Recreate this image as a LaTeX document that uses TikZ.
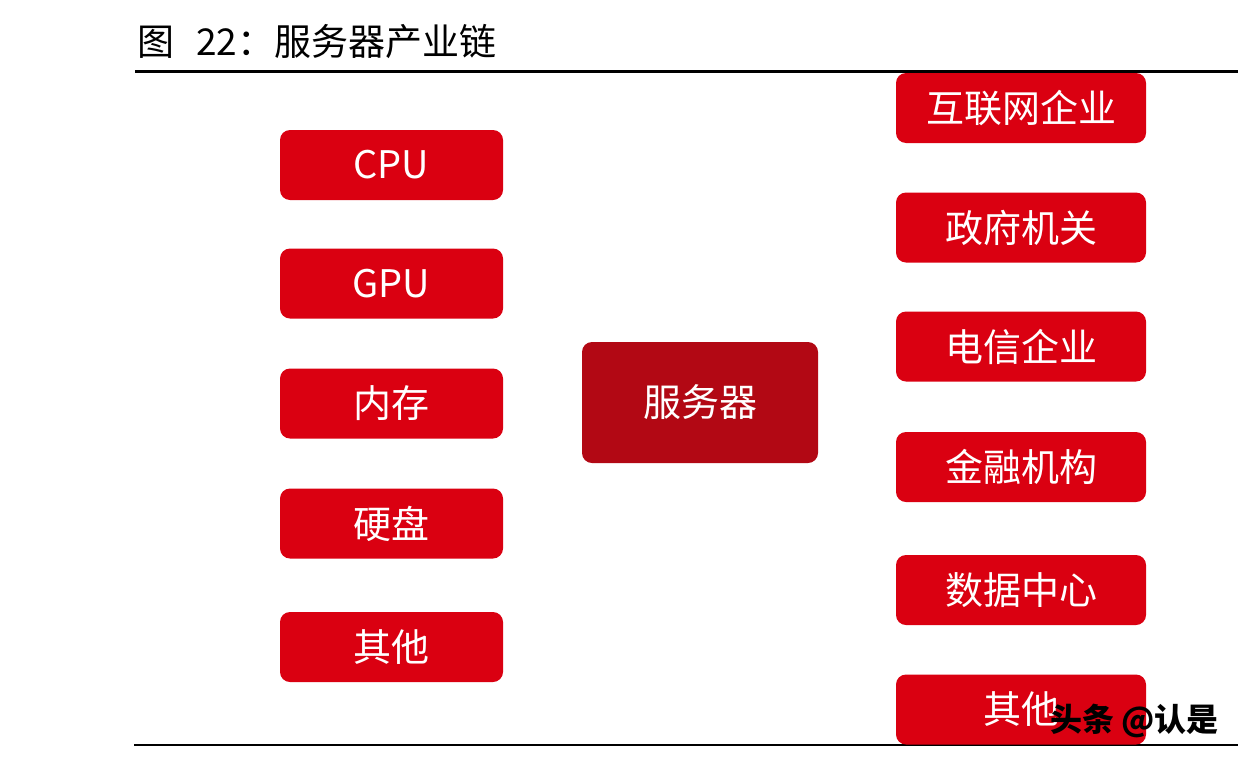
\documentclass[tikz,border=0pt]{standalone}
\usepackage{fontspec}
\setmainfont{Noto Sans CJK SC}
\usepackage{xcolor}
\usetikzlibrary{positioning}
\definecolor{boxred}{RGB}{218,0,17}
\definecolor{darkred}{RGB}{178,8,20}

\begin{document}
\begin{tikzpicture}[x=1pt, y=-1pt, font=\fontsize{38}{44}\selectfont,
    part/.style={rectangle, rounded corners=10pt, fill=boxred, text=white, minimum width=223pt, minimum height=70pt, inner sep=0pt},
    user/.style={part, minimum width=250pt},
    core/.style={part, fill=darkred, minimum width=236pt, minimum height=121pt}]
\useasboundingbox (0,0) rectangle (1238,758);
\begin{scope}
    % title and rules
    \node [anchor=base west, inner sep=0pt, font=\fontsize{37}{44}\selectfont] (title) at (137,55) {图\hspace{22pt}22：服务器产业链};
    \coordinate (t0) at (135,71.5);
    \coordinate (t1) at (1238,71.5);
    \coordinate (b0) at (134,745);
    \coordinate (b1) at (1238,745);
    \draw [line width=2.5pt] (t0) -- (t1);
    \draw [line width=2.5pt] (b0) -- (b1);

    % upstream parts
    \node [part] (cpu) at (391.5,165) {CPU};
    \node [part] (gpu) at (391.5,283.5) {GPU};
    \node [part] (mem) at (391.5,403.5) {内存};
    \node [part] (disk) at (391.5,523.5) {硬盘};
    \node [part] (other1) at (391.5,647) {其他};

    % server
    \node [core] (server) at (700,402.5) {服务器};

    % downstream users
    \node [user] (web) at (1021,108) {互联网企业};
    \node [user] (gov) at (1021,227.5) {政府机关};
    \node [user] (tel) at (1021,346.5) {电信企业};
    \node [user] (fin) at (1021,467) {金融机构};
    \node [user] (idc) at (1021,590) {数据中心};
    \node [user] (other2) at (1021,709.5) {其他};

    % watermark
    \node [anchor=base west, inner sep=0pt, font=\bfseries\fontsize{32}{36}\selectfont] (mark) at (1050,731) {头条 @认是};
\end{scope}
\end{tikzpicture}
\end{document}
